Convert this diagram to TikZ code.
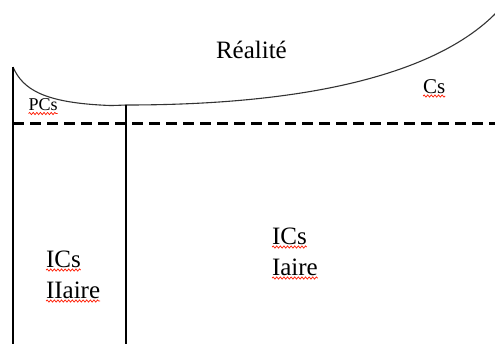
\documentclass[tikz,border=0pt]{standalone}
\usepackage{fontspec}
\setmainfont{Liberation Serif}
\usetikzlibrary{decorations.pathmorphing}
\begin{document}
\begin{tikzpicture}[x=1pt,y=-1pt,
  wall/.style={line width=2.6pt},
  limit/.style={line width=2.4pt, dash pattern=on 11pt off 6pt},
  reality/.style={line width=1.1pt, black!80},
  label/.style={anchor=base west, inner sep=0pt, outer sep=0pt},
  spell/.style={draw=red!80!orange, line width=0.7pt,
    decorate, decoration={snake, amplitude=1.1pt, segment length=3.6pt}}]
\useasboundingbox (0,0) rectangle (495,343);

% boundary of reality
\draw[reality] (13,67) .. controls (23,90) and (45,103) .. (110,105.5)
  .. controls (115,105.5) and (121,105.2) .. (126,105)
  .. controls (320,105) and (440,70) .. (496,13);

% vertical separators
\draw[wall] (13,67) -- (13,344);
\draw[wall] (126,104.5) -- (126,344);

% dashed limit
\draw[limit] (13,123.5) -- (496,123.5);

% labels
\node[label, font=\fontsize{25}{30}\selectfont] (real) at (216,58) {Réalité};
\node[label, font=\fontsize{18}{22}\selectfont] (pcs) at (28.5,110.5) {PCs};
\node[label, font=\fontsize{21}{25}\selectfont] (cs) at (423,93) {Cs};
\node[label, font=\fontsize{25}{30}\selectfont] (ics2) at (46,267) {ICs};
\node[label, font=\fontsize{25}{30}\selectfont] (aire2) at (46,298) {IIaire};
\node[label, font=\fontsize{25}{30}\selectfont] (ics1) at (272,244) {ICs};
\node[label, font=\fontsize{25}{30}\selectfont] (aire1) at (272,275) {Iaire};

% spelling marks under the abbreviations
\foreach \n in {pcs,cs,ics2,aire2,ics1,aire1}
  \draw[spell] ([yshift=-3pt]\n.base west) -- ([yshift=-3pt]\n.base east);
\end{tikzpicture}
\end{document}
